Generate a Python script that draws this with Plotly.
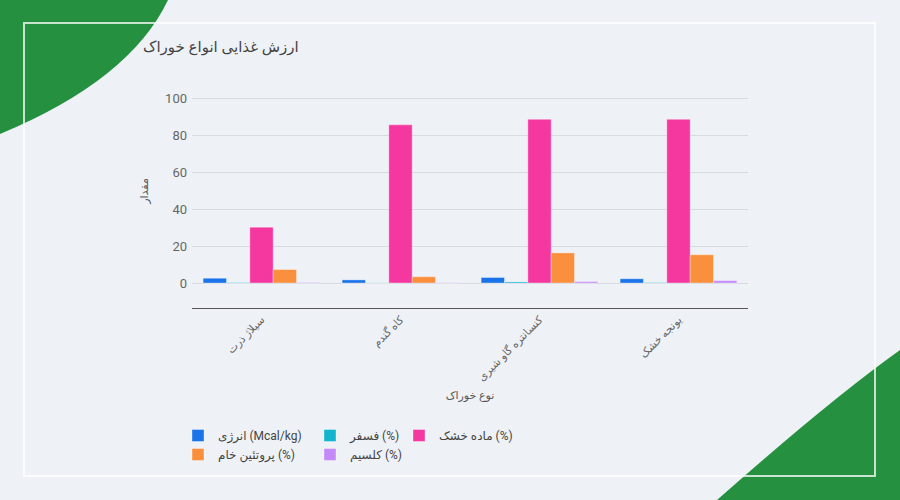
import plotly.graph_objects as go

categories = ["سیلاژ ذرت", "کاه گندم", "کنسانتره گاو شیری", "یونجه خشک"]
series_names = ["انرژی (Mcal/kg)", "فسفر (%)", "ماده خشک (%)", "پروتئین خام (%)", "کلسیم (%)"]
energy = [2.6, 1.7, 3.0, 2.3]
phosphorus = [0.25, 0.1, 0.6, 0.25]
dry_matter = [30.2, 85.5, 88.5, 88.5]
crude_protein = [7.3, 3.4, 16.3, 15.3]
calcium = [0.3, 0.2, 0.8, 1.3]
y_ticks = [0, 20, 40, 60, 80, 100]

series_values = [energy, phosphorus, dry_matter, crude_protein, calcium]
colors = ["#1a73e8", "#12b5cb", "#f538a0", "#fa903e", "#c58af9"]
legend_ids = ["legend", "legend2", "legend3", "legend", "legend2"]

W, H = 900, 500
L, R, T, B = 192, 152, 74, 192
PW, PH = W - L - R, H - T - B


def px(x):
    return (x - L) / PW


def py(y):
    return (H - B - y) / PH


fig = go.Figure()
for name, vals, col, lg in zip(series_names, series_values, colors, legend_ids):
    fig.add_trace(go.Bar(
        x=categories, y=vals, name=name, legend=lg,
        marker=dict(color=col, line=dict(color="rgba(255,255,255,0.35)", width=1)),
    ))

font_family = "Roboto, 'DejaVu Sans', sans-serif"

shapes = [
    dict(type="path", xref="paper", yref="paper", layer="below",
         path=f"M {px(-5)},{py(-5)} L {px(168)},{py(-5)} L {px(168)},{py(0)} Q {px(130)},{py(80)} {px(0)},{py(134)} L {px(-5)},{py(134)} Z",
         fillcolor="#259140", line=dict(width=0)),
    dict(type="path", xref="paper", yref="paper", layer="below",
         path=f"M {px(905)},{py(350)} L {px(900)},{py(350)} Q {px(830)},{py(400)} {px(717)},{py(500)} L {px(717)},{py(505)} L {px(905)},{py(505)} Z",
         fillcolor="#259140", line=dict(width=0)),
    dict(type="rect", xref="paper", yref="paper", layer="above",
         x0=px(24), x1=px(875), y0=py(23), y1=py(476),
         line=dict(color="rgba(255,255,255,0.75)", width=2), fillcolor="rgba(0,0,0,0)"),
]

legend_common = dict(orientation="v", xanchor="left", yanchor="top", bgcolor="rgba(0,0,0,0)",
                     font=dict(size=12, color="#444", family=font_family), tracegroupgap=0)

fig.update_layout(
    width=W, height=H,
    margin=dict(l=L, r=R, t=T, b=B),
    paper_bgcolor="#eef2f7", plot_bgcolor="#eef2f7",
    font=dict(family=font_family, color="#555"),
    title=dict(text="ارزش غذایی انواع خوراک", x=143 / W, xanchor="left", xref="container",
               y=1 - 47 / H, yanchor="middle", yref="container",
               font=dict(size=15, color="#444", family=font_family)),
    barmode="group", bargap=0.16, bargroupgap=0.0,
    shapes=shapes,
    legend=dict(x=px(178), y=py(421), **legend_common),
    legend2=dict(x=px(310), y=py(421), **legend_common),
    legend3=dict(x=px(399), y=py(421), **legend_common),
    xaxis=dict(
        tickangle=-45, showline=True, linecolor="#555", linewidth=1,
        showgrid=False, ticks="", tickfont=dict(size=11, color="#666"),
        title=dict(text="نوع خوراک", font=dict(size=11, color="#555"), standoff=8),
    ),
    yaxis=dict(
        range=[-13.5, 113], tickvals=y_ticks, showgrid=True, gridcolor="#d6dbe3",
        zeroline=True, zerolinecolor="#d6dbe3", zerolinewidth=1,
        tickfont=dict(size=13, color="#666"), ticklabelstandoff=4,
        title=dict(text="مقدار", font=dict(size=11, color="#555"), standoff=14),
    ),
)

fig.write_html("out.html")
